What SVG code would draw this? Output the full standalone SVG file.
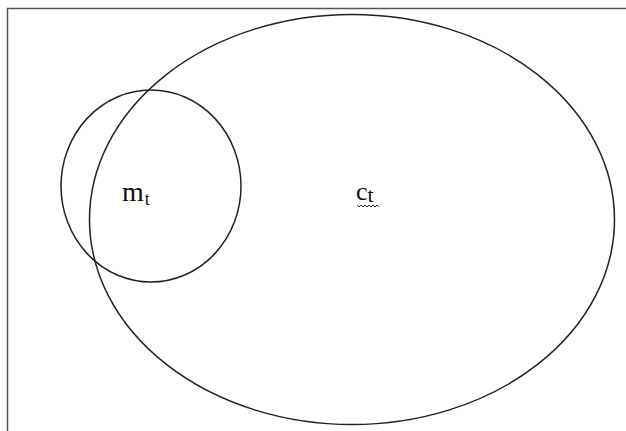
<svg xmlns="http://www.w3.org/2000/svg" width="626" height="431" viewBox="0 0 626 431">
<style>
.s{fill:none;stroke:#222;stroke-width:1.5}
.t{font-family:"Liberation Serif","DejaVu Serif",serif;fill:#111}
</style>
<rect width="626" height="431" fill="#fff"/>
<path d="M7.5 431 V8.5 H626" fill="none" stroke="#555" stroke-width="1.5"/>
<g id="c_t">
<ellipse class="s" cx="352" cy="219.5" rx="262.5" ry="205"/>
<text class="t" x="356" y="200" font-size="26">c<tspan font-size="22" dy="2">t</tspan></text>
<path d="M357 205 l2 2 l2 -2 l2 2 l2 -2 l2 2 l2 -2 l2 2 l2 -2 l2 2 l2 -2 l2 2" fill="none" stroke="#333" stroke-width="1"/>
</g>
<g id="m_t">
<ellipse class="s" cx="151" cy="186" rx="90" ry="96"/>
<text class="t" x="122" y="201" font-size="28" letter-spacing="1">m<tspan font-size="18" dy="4">t</tspan></text>
</g>
</svg>
